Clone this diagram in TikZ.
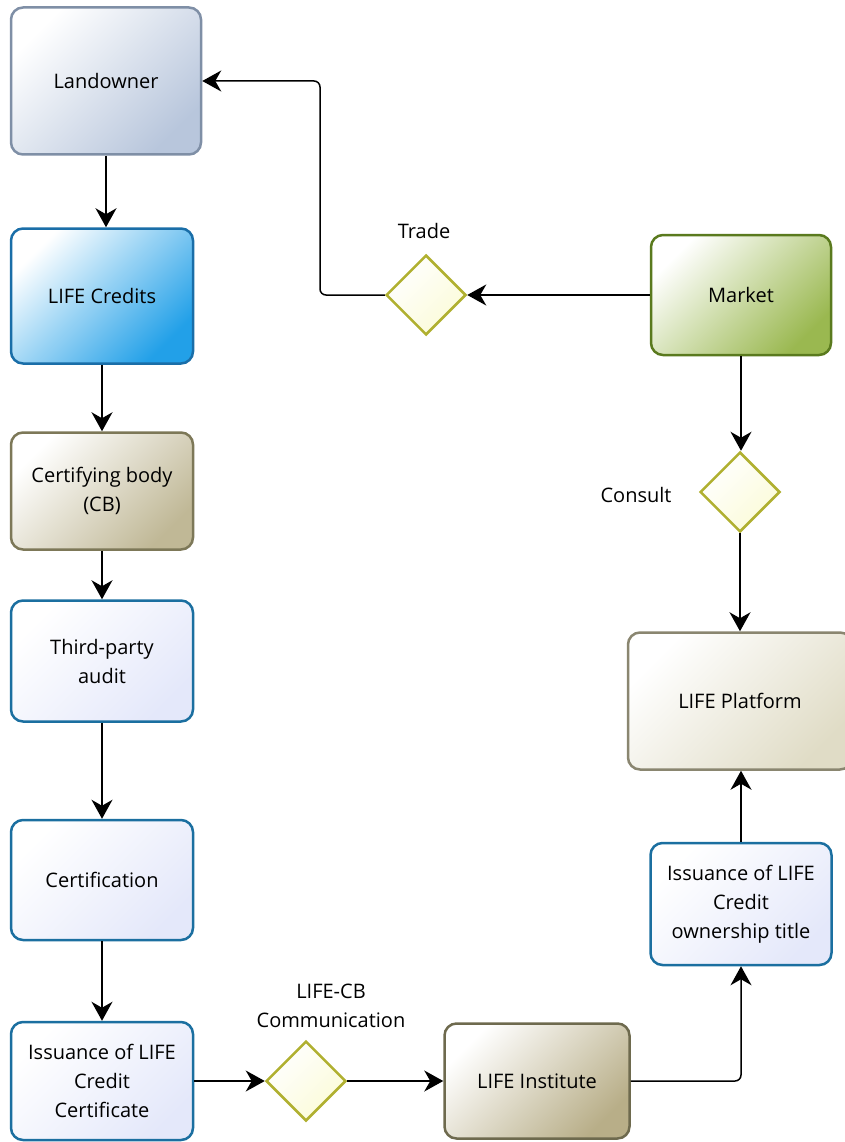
\documentclass[tikz,border=0pt]{standalone}
\usepackage{fontspec}
\setmainfont{Open Sans}
\usetikzlibrary{arrows.meta,shapes.geometric}
\definecolor{landB}{HTML}{7F8FA6}\definecolor{landF}{HTML}{B8C6DC}
\definecolor{credB}{HTML}{1A6EA8}\definecolor{credF}{HTML}{22A0E8}
\definecolor{cbB}{HTML}{7D7858}\definecolor{cbF}{HTML}{C0B896}
\definecolor{audB}{HTML}{1B6FA0}\definecolor{audF}{HTML}{E4E8FA}
\definecolor{mkB}{HTML}{5A7A1E}\definecolor{mkF}{HTML}{9AB850}
\definecolor{diaB}{HTML}{B0B030}\definecolor{diaF}{HTML}{FBFBD8}
\definecolor{platB}{HTML}{8A8670}\definecolor{platF}{HTML}{E0DCC6}
\definecolor{instB}{HTML}{6E6A4E}\definecolor{instF}{HTML}{B8AE88}
\begin{document}
\begin{tikzpicture}[x=1pt,y=-1pt,
  box/.style={rectangle, rounded corners=12pt, line width=2.5pt, align=center,
    font=\fontsize{20}{29}\selectfont, inner sep=0pt},
  shd/.style 2 args={draw=#1, top color=white, bottom color=#2, shading angle=45},
  dia/.style={diamond, shd={diaB}{diaF},
    line width=2.5pt, minimum width=80pt, minimum height=80pt, inner sep=0pt},
  lbl/.style={align=center, font=\fontsize{20}{29}\selectfont},
  conn/.style={-{Stealth[length=19pt,width=21pt,inset=6pt]}, line width=1.5pt, rounded corners=6pt}]
\useasboundingbox (0,0) rectangle (845,1142);
\node[box, shd={landB}{landF}, minimum width=190pt, minimum height=147pt] (land) at (106,81) {Landowner};
\node[box, shd={credB}{credF}, minimum width=182pt, minimum height=135pt] (cred) at (102,296) {LIFE Credits};
\node[box, shd={cbB}{cbF}, minimum width=182pt, minimum height=117pt] (cb) at (102,491) {Certifying body\\(CB)};
\node[box, shd={audB}{audF}, minimum width=182pt, minimum height=121pt] (aud) at (102,661) {Third-party\\audit};
\node[box, shd={audB}{audF}, minimum width=182pt, minimum height=120pt] (cert) at (102,880) {Certification};
\node[box, shd={audB}{audF}, minimum width=182pt, minimum height=118pt] (iss) at (102,1081) {Issuance of LIFE\\Credit\\Certificate};
\node[dia] (lcb) at (306,1081) {};
\node[lbl] (lcbl) at (331,1006) {LIFE-CB\\Communication};
\node[box, shd={instB}{instF}, minimum width=185pt, minimum height=115pt] (inst) at (537,1081) {LIFE Institute};
\node[box, shd={audB}{audF}, minimum width=181pt, minimum height=122pt] (own) at (741,904) {Issuance of LIFE\\Credit\\ownership title};
\node[box, shd={platB}{platF}, minimum width=224pt, minimum height=137pt] (plat) at (740,701) {LIFE Platform};
\node[dia] (cons) at (740,492) {};
\node[lbl] (consl) at (636,495) {Consult};
\node[box, shd={mkB}{mkF}, minimum width=180pt, minimum height=120pt] (mk) at (741,295) {Market};
\node[dia] (trade) at (426,295) {};
\node[lbl] (tradel) at (424,231) {Trade};
\coordinate (tc) at (320,295);
\draw[conn] (land.south) -- (land.south |- cred.north);
\draw[conn] (cred) -- (cb);
\draw[conn] (cb) -- (aud);
\draw[conn] (aud) -- (cert);
\draw[conn] (cert) -- (iss);
\draw[conn] (iss) -- (lcb);
\draw[conn] (lcb) -- (inst);
\draw[conn] (inst.east) -- (inst.east -| own.south) -- (own.south);
\draw[conn] (own) -- (own.north |- plat.south);
\draw[conn] (mk) -- (mk.south |- cons.north);
\draw[conn] (cons) -- (cons.south |- plat.north);
\draw[conn] (mk) -- (trade);
\draw[conn] (trade.west) -- (tc) -- (tc |- land.east) -- (land.east);
\end{tikzpicture}
\end{document}
